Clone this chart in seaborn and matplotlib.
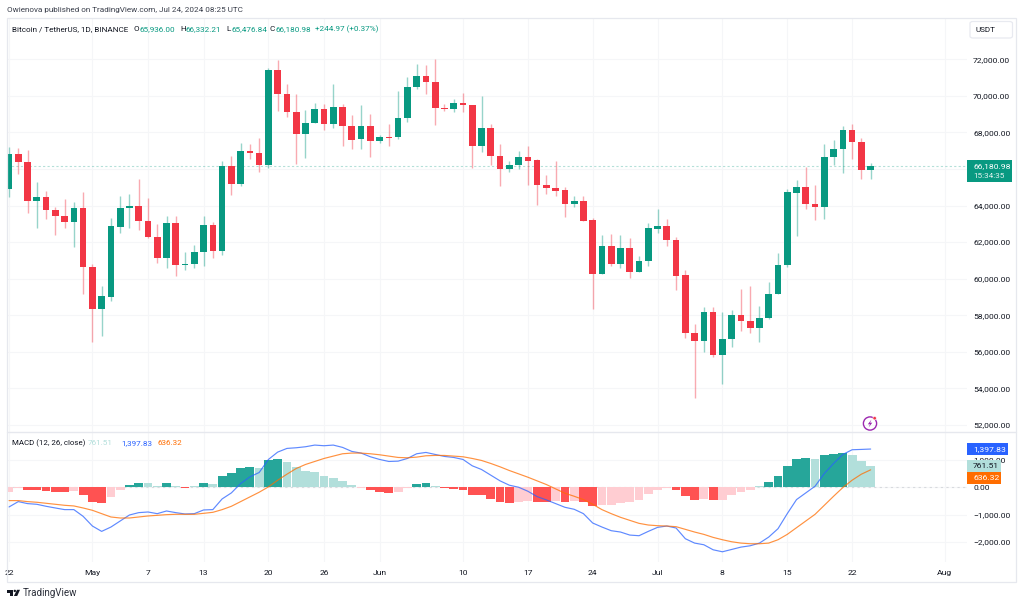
import numpy as np
import pandas as pd
import matplotlib
matplotlib.use('Agg')
import matplotlib.pyplot as plt
from matplotlib.patches import Rectangle, FancyBboxPatch, Circle, Polygon
import seaborn as sns

# BTC/USDT daily candles, 22 Apr - 24 Jul 2024
dates = pd.date_range('2024-04-22', '2024-07-24', freq='D')

opens = [64908, 66805, 66404, 64270, 64470, 63759, 63430, 63084, 63850, 60640,
         58323, 59017, 62847, 63886, 63978, 63139, 62281, 61150, 63047, 60749,
         60804, 61442, 62920, 61534, 66185, 65181, 66987, 66878, 66239, 71420,
         70125, 69140, 67936, 68538, 69267, 68483, 69413, 68374, 67626, 68338,
         67516, 67735, 67735, 68775, 70508, 71073, 70781, 69322, 69286, 69632,
         69523, 67261, 68246, 66732, 66002, 66203, 66641, 66476, 65145, 64963,
         64835, 64105, 64251, 63194, 60275, 61771, 60822, 61680, 60384, 60950,
         62738, 62884, 62117, 60184, 57010, 56591, 58196, 55806, 56682, 58013,
         57703, 57302, 57831, 59162, 60731, 64671, 65018, 64069, 63941, 66641,
         67115, 68137, 67498, 65936]
highs = [67206, 67170, 67042, 65273, 64799, 63905, 64361, 64178, 64726, 60822,
         59600, 63321, 64525, 64616, 65473, 64397, 62993, 63430, 63430, 61479,
         61862, 63430, 63084, 66422, 66714, 67425, 67370, 67680, 71511, 71967,
         70653, 70088, 69231, 69596, 69559, 70653, 69559, 68939, 69486, 69012,
         67863, 68447, 70270, 71018, 71748, 71675, 72003, 69541, 69814, 70179,
         69523, 69997, 68447, 67370, 66440, 66969, 67279, 66568, 65674, 66440,
         65017, 64525, 64507, 63340, 62391, 62464, 62373, 62209, 61242, 63029,
         63832, 63267, 62300, 60476, 57503, 58469, 58433, 58196, 58287, 59436,
         59618, 58506, 59819, 61388, 64908, 65382, 66130, 65127, 67370, 67571,
         68356, 68465, 67717, 66332]
lows = [64488, 65747, 63613, 62792, 63266, 62373, 62756, 61752, 59162, 56536,
        56882, 58798, 62518, 62792, 62664, 62200, 60877, 60603, 60166, 60457,
        60585, 60713, 61114, 61296, 64598, 65090, 66568, 65856, 66039, 69158,
        68830, 66276, 66586, 68501, 68136, 68246, 67261, 67115, 67115, 66659,
        67425, 67243, 67626, 68556, 70398, 70125, 68410, 69158, 69103, 69140,
        66039, 66914, 66221, 65072, 65856, 66021, 65127, 64033, 64634, 64543,
        63376, 63941, 63175, 58360, 60239, 60713, 60585, 60056, 60348, 60713,
        62482, 61789, 59381, 56755, 53453, 56007, 55697, 54238, 56281, 57120,
        57028, 56518, 57776, 59162, 60622, 62336, 63832, 63230, 63285, 66221,
        65784, 66531, 65437, 65477]
closes = [66805, 66404, 64270, 64470, 63741, 63430, 63084, 63850, 60640, 58323,
          59035, 62865, 63886, 63978, 63139, 62281, 61150, 63047, 60749, 60804,
          61446, 62920, 61534, 66185, 65181, 66987, 66878, 66239, 71420, 70125,
          69140, 67936, 68538, 69267, 68483, 69413, 68374, 67607, 68338, 67516,
          67735, 67717, 68775, 70508, 71073, 70781, 69322, 69286, 69632, 69523,
          67279, 68246, 66732, 66002, 66203, 66641, 66458, 65127, 64944, 64817,
          64105, 64251, 63175, 60275, 61771, 60822, 61680, 60384, 60968, 62756,
          62884, 62099, 60166, 57010, 56591, 58196, 55806, 56682, 58013, 57703,
          57302, 57849, 59162, 60768, 64726, 65018, 64069, 63941, 66641, 67115,
          68137, 67498, 65936, 66181]

# MACD (12, 26, close)
macd_hist = [-184, -15, -86, -90, -125, -160, -184, -135, -295, -525,
             -590, -355, -110, 85, 170, 147, 60, 147, 35, -25,
             35, 160, 135, 404, 527, 686, 735, 710, 980, 1017,
             919, 735, 600, 539, 404, 355, 220, 75, -35, -110,
             -170, -210, -170, -30, 110, 160, 35, -35, -75, -110,
             -270, -295, -415, -540, -575, -540, -515, -540, -540, -515,
             -550, -515, -540, -700, -660, -660, -575, -550, -455, -257,
             -85, -25, -85, -318, -453, -416, -478, -453, -282, -172,
             -110, 37, 196, 404, 784, 1017, 1066, 1041, 1164, 1213,
             1250, 1176, 955, 762]
# G growing above zero, g falling above zero, R falling below zero, r rising below zero
hist_trend = list('rrRRRRRrRRRrrGGggGgRgGgGGGGgGGgggggggg'[:38]) + \
    list('rRRRrrGGgRRRRRRRRrrRRrRrRRrrrrrrrrRRRrRrrrrgGGGGGgGGGggg')
macd_line = [-723, -527, -600, -625, -698, -760, -820, -820, -1066, -1421,
             -1617, -1458, -1237, -1017, -931, -907, -968, -870, -931, -980,
             -968, -833, -820, -429, -208, 135, 380, 539, 1017, 1286,
             1421, 1445, 1482, 1543, 1519, 1543, 1458, 1311, 1250, 1115,
             1017, 943, 955, 1053, 1225, 1274, 1200, 1127, 1090, 1017,
             784, 649, 441, 233, 74, 0, -147, -343, -465, -600,
             -735, -808, -968, -1311, -1458, -1592, -1641, -1752, -1776, -1617,
             -1470, -1421, -1494, -1886, -2046, -2107, -2291, -2364, -2279, -2193,
             -2144, -2046, -1825, -1519, -968, -453, -208, 37, 502, 870,
             1200, 1372, 1384, 1398]
signal_line = [-490, -490, -527, -551, -588, -625, -662, -686, -760, -845,
               -968, -1090, -1127, -1127, -1090, -1053, -1029, -1005, -992, -992,
               -992, -956, -919, -821, -698, -527, -355, -184, 12, 257,
               478, 686, 833, 943, 1053, 1139, 1225, 1250, 1250, 1225,
               1188, 1139, 1090, 1078, 1102, 1151, 1164, 1164, 1139, 1115,
               1053, 980, 870, 747, 612, 490, 367, 233, 98, -61,
               -220, -331, -453, -625, -821, -968, -1102, -1213, -1323, -1384,
               -1409, -1421, -1445, -1543, -1641, -1727, -1837, -1923, -1997, -2046,
               -2070, -2070, -2046, -1923, -1727, -1482, -1237, -992, -662, -331,
               -12, 257, 478, 636]

price_ticks = list(range(52000, 72001, 2000))
macd_ticks = [-2000, -1000, 0, 1000]
time_ticks = ['2024-04-22', '2024-05-01', '2024-05-07', '2024-05-13', '2024-05-20',
              '2024-05-26', '2024-06-01', '2024-06-10', '2024-06-17', '2024-06-24',
              '2024-07-01', '2024-07-08', '2024-07-15', '2024-07-22', '2024-08-01']
time_labels = ['22', 'May', '7', '13', '20', '26', 'Jun', '10', '17', '24',
               'Jul', '8', '15', '22', 'Aug']

GREEN = '#089981'
RED = '#f23645'
INK = '#131722'
GRID = '#f5f6f8'
FRAME = '#e6e8ee'

W, H = 1022, 605
sns.set_theme(style='white')
plt.rcParams['font.family'] = ['Roboto', 'DejaVu Sans']

fig = plt.figure(figsize=(W / 100, H / 100), dpi=100, facecolor='white')


def box(left, top, right, bottom):
    return [left / W, 1 - bottom / H, (right - left) / W, (bottom - top) / H]


def label(x, y, s, color=INK, size=5.9, **kw):
    fig.text(x / W, 1 - y / H, s, color=color, fontsize=size, va='center', **kw)


def pt(x, y):
    return (x / W, 1 - y / H)


ax = fig.add_axes(box(6.6, 18, 967, 432))
ax2 = fig.add_axes(box(6.6, 432, 967, 561.5))
days = np.arange(len(dates))
tick_pos = [(pd.Timestamp(t) - dates[0]).days for t in time_ticks]
x_range = (-0.26, 103.4)

# candles
o, h, l, c = map(np.array, (opens, highs, lows, closes))
up = c >= o
colors = np.where(up, GREEN, RED)
ax.vlines(days, l, h, colors=colors, linewidth=1.0, alpha=0.42, zorder=2)
ax.bar(days, np.abs(c - o), bottom=np.minimum(o, c), width=0.72, color=colors,
       linewidth=0, zorder=3)
ax.axhline(closes[-1], color=GREEN, alpha=0.3, linewidth=0.8, linestyle=(0, (2, 2)), zorder=1)
ax.set_ylim(51611, 74265)
ax.set_yticks(price_ticks)
# the 66,000 label sits under the last-price tag, so it never shows
ax.set_yticklabels(['' if p == 66000 else f'{p:,.2f}' for p in price_ticks])

# macd pane
hist_df = pd.DataFrame({'day': days, 'value': macd_hist, 'trend': hist_trend})
sns.barplot(data=hist_df, x='day', y='value', hue='trend', native_scale=True, dodge=False,
            palette={'G': '#26a69a', 'g': '#b2dfdb', 'R': '#ff5252', 'r': '#ffcdd2'},
            saturation=1, width=0.95, linewidth=0, legend=False, ax=ax2, zorder=2)
ax2.axhline(0, color='#d8dade', linewidth=0.8, linestyle=(0, (2, 3)), zorder=1)
sns.lineplot(x=days, y=macd_line, color='#2962ff', linewidth=0.85, alpha=0.75, ax=ax2, zorder=3)
sns.lineplot(x=days, y=signal_line, color='#ff6d00', linewidth=0.85, alpha=0.75, ax=ax2, zorder=4)
ax2.set_ylim(-2720, 2022)
ax2.set_yticks(macd_ticks)
ax2.set_yticklabels([f'{v:,.2f}'.replace('-', '\u2212') for v in macd_ticks])
ax2.set_xlabel('')
ax2.set_ylabel('')

for a in (ax, ax2):
    a.set_xlim(*x_range)
    a.set_xticks(tick_pos)
    a.grid(True, color=GRID, linewidth=0.8, zorder=0)
    a.set_axisbelow(True)
    a.yaxis.tick_right()
    a.tick_params(axis='y', length=0, pad=4.4, labelsize=6.1, labelcolor=INK)
    for s in a.spines.values():
        s.set_visible(False)
ax.tick_params(axis='x', length=0, labelbottom=False)
ax2.set_xticklabels(time_labels)
ax2.tick_params(axis='x', length=0, pad=5.8, labelsize=6.1, labelcolor=INK)

# outer frame and pane separator
fig.add_artist(Rectangle((6.6 / W, 1 - 581.7 / H), 1009 / W, 563.7 / H, fill=False,
                         edgecolor=FRAME, linewidth=0.9, transform=fig.transFigure))
fig.add_artist(plt.Line2D([6.6 / W, 1015.6 / W], [1 - 432 / H] * 2, color=FRAME, linewidth=1.0))

# header and legends
label(7, 10, 'Owienova published on TradingView.com, Jul 24, 2024 08:25 UTC', color='#3a3f4b', size=5.9)
label(12, 29, 'Bitcoin / TetherUS, 1D, BINANCE')
for x, s in [(134, 'O'), (180, 'H'), (226, 'L'), (270, 'C')]:
    label(x, 29, s)
for x, s in [(140, '65,936.00'), (186, '66,332.21'), (231, '65,476.84'), (276, '66,180.98'),
             (315, '+244.97 (+0.37%)')]:
    label(x, 29, s, color=GREEN)
label(12, 443, 'MACD (12, 26, close)', size=5.7)
label(88, 443, '761.51', color='#b2dfdb')
label(121, 443, '1,397.83', color='#2962ff')
label(157, 443, '636.32', color='#ff6d00')

# USDT button
fig.add_artist(FancyBboxPatch((970 / W, 1 - 38 / H), 42.5 / W, 16.5 / H,
                              boxstyle='round,pad=0,rounding_size=0.003', facecolor='white',
                              edgecolor='#e8eaf0', linewidth=0.9, transform=fig.transFigure))
label(976, 29.5, 'USDT')


# axis price tags
def tag(top, bottom, right, color):
    fig.add_artist(Rectangle((967 / W, 1 - bottom / H), (right - 967) / W, (bottom - top) / H,
                             facecolor=color, edgecolor='none', transform=fig.transFigure, zorder=5))


tag(160, 181.7, 1012, GREEN)
label(973, 166, '66,180.98', color='white', size=6.1, zorder=6)
label(973, 175.5, '15:34:35', color='#e4f3f0', size=5.9, zorder=6)
tag(443, 455, 1008, '#2962ff')
label(973, 449, '1,397.83', color='white', size=6.1, zorder=6)
tag(460, 471.7, 1001, '#b2dfdb')
label(973, 466, '761.51', color=INK, size=6.1, zorder=6)
tag(471.7, 483.5, 1001, '#ff6d00')
label(973, 477.7, '636.32', color='white', size=6.1, zorder=6)

# lightning badge and TradingView logo; circles in display units so they stay round
fig.add_artist(Circle((870, H - 423.5), 6.6, fill=False, edgecolor='#9c27b0', linewidth=1.0, transform=None))
fig.add_artist(Circle((874.6, H - 418.2), 1.7, facecolor='#f23645', edgecolor='white', linewidth=0.4, transform=None))
fig.add_artist(Polygon([pt(871.5, 419.5), pt(867.8, 424.3), pt(870, 424.3), pt(868.6, 427.5),
                        pt(872.3, 422.7), pt(870.1, 422.7)], closed=True, facecolor='#9c27b0',
                       edgecolor='none', transform=fig.transFigure))
fig.add_artist(Polygon([pt(6.8, 589.8), pt(13, 589.8), pt(13, 596), pt(10, 596), pt(10, 592.5), pt(6.8, 592.5)],
                       closed=True, facecolor=INK, edgecolor='none', transform=fig.transFigure))
fig.add_artist(Circle((14.8, H - 590.9), 1.2, facecolor=INK, edgecolor='none', transform=None))
fig.add_artist(Polygon([pt(17, 589.8), pt(20, 589.8), pt(17.2, 596), pt(13.9, 596)], closed=True,
                       facecolor=INK, edgecolor='none', transform=fig.transFigure))
label(23, 593, 'TradingView', color='#2a2e39', size=7.0)

fig.savefig('out.png', dpi=100)
